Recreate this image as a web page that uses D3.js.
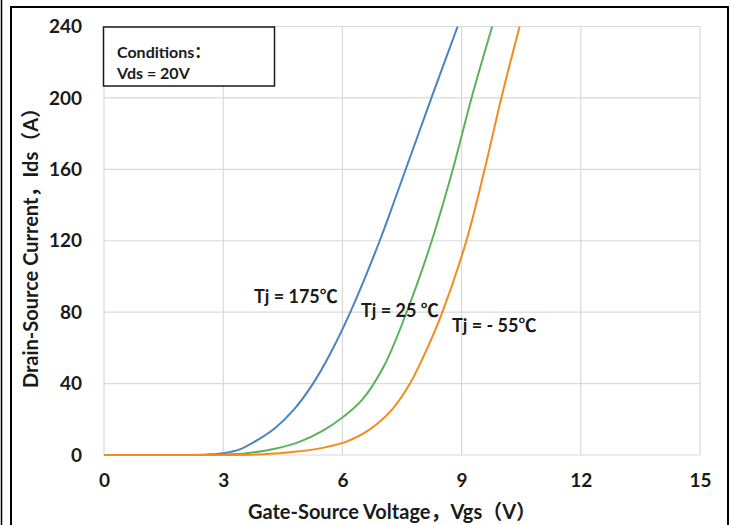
<!DOCTYPE html>
<html>
<head>
<meta charset="utf-8">
<script src="https://cdn.jsdelivr.net/npm/d3@7/dist/d3.min.js"></script>
<style>
  html, body { margin: 0; padding: 0; background: #fff; }
  svg { display: block; }
  text { font-family: Lato, "Noto Sans CJK SC", sans-serif; font-weight: bold; fill: #1a1a1a; }
</style>
</head>
<body>
<svg id="chart" width="732" height="525"></svg>
<script>
// Transfer characteristics: drain current vs gate-source voltage at three junction temperatures
const xTicks = [0, 3, 6, 9, 12, 15];
const yTicks = [0, 40, 80, 120, 160, 200, 240];

const seriesNames = ["Tj = 175℃", "Tj = 25 ℃", "Tj = - 55℃"];
const seriesColors = ["#4a84c0", "#5ab35c", "#f58a1f"];

// [Vgs (V), Ids (A)]
const tj175 = [[0,0],[2,0],[2.6,0.3],[3,1],[3.4,3],[3.87,8.5],[4.3,15],[4.8,26],[5.26,40],[5.7,57],
  [6.2,80],[6.94,120],[7.4,148],[8.24,200],[8.9,240]];
const tj25 = [[0,0],[2,0],[3,0.2],[3.6,1],[4.3,3.5],[4.93,7.5],[5.5,13.5],[6,21],[6.5,31],[7.05,50],
  [7.6,79],[8.25,120],[8.78,160],[9.25,200],[9.77,240]];
const tjMinus55 = [[0,0],[3,0],[4,0.4],[4.8,1.8],[5.5,4],[6.1,7.5],[6.7,14.5],[7.27,26],[7.7,40],[8.1,58],
  [8.5,79],[9.12,120],[9.58,160],[10.0,200],[10.46,240]];
const seriesData = [tj175, tj25, tjMinus55];

const svg = d3.select("#chart");

// outer frame
svg.append("line").attr("x1", 1.5).attr("x2", 1.5).attr("y1", 0).attr("y2", 525)
  .attr("stroke", "#000").attr("stroke-width", 1.5);
svg.append("rect").attr("x", 11).attr("y", 7).attr("width", 717).attr("height", 530)
  .attr("fill", "none").attr("stroke", "#000").attr("stroke-width", 2);

const x = d3.scaleLinear().domain([0, 15]).range([104, 700]);
const y = d3.scaleLinear().domain([0, 240]).range([455, 26.5]);

// gridlines
const grid = svg.append("g").attr("stroke", "#d9d9d9").attr("stroke-width", 1.2);
grid.selectAll("line.v").data(xTicks).join("line").attr("class", "v")
  .attr("x1", d => x(d)).attr("x2", d => x(d)).attr("y1", y(0)).attr("y2", y(240));
grid.selectAll("line.h").data(yTicks).join("line").attr("class", "h")
  .attr("x1", x(0)).attr("x2", x(15)).attr("y1", d => y(d)).attr("y2", d => y(d));

// axes (tick labels only, no lines)
const gx = svg.append("g").attr("transform", "translate(0,473)")
  .call(d3.axisBottom(x).tickValues(xTicks).tickSize(0).tickPadding(0));
const gy = svg.append("g").attr("transform", "translate(82,0)")
  .call(d3.axisLeft(y).tickValues(yTicks).tickSize(0).tickPadding(0));
[gx, gy].forEach(g => {
  g.select(".domain").remove();
  g.attr("font-family", null).attr("font-size", null);
  g.selectAll("text").attr("font-size", 19).attr("fill", "#1a1a1a");
});
gx.selectAll("text").attr("dy", "0.71em");

// curves
const line = d3.line().x(d => x(d[0])).y(d => y(d[1])).curve(d3.curveCatmullRom.alpha(0.5));
svg.append("g").selectAll("path").data(seriesData).join("path")
  .attr("d", line).attr("fill", "none")
  .attr("stroke", (d, i) => seriesColors[i]).attr("stroke-width", 2);

// series labels
const labelPos = [[254, 303], [361, 317], [452, 332]];
svg.append("g").selectAll("text").data(seriesNames).join("text")
  .attr("x", (d, i) => labelPos[i][0]).attr("y", (d, i) => labelPos[i][1])
  .attr("font-size", 18).text(d => d);

// conditions box
svg.append("rect").attr("x", 103.5).attr("y", 27).attr("width", 171).attr("height", 59)
  .attr("fill", "#fff").attr("stroke", "#1a1a1a").attr("stroke-width", 1.5);
svg.append("text").attr("x", 117).attr("y", 58).attr("font-size", 16).text("Conditions：");
svg.append("text").attr("x", 117).attr("y", 79).attr("font-size", 16).text("Vds = 20V");

// axis titles
svg.append("text").attr("x", 392).attr("y", 519).attr("text-anchor", "middle")
  .attr("font-size", 20).text("Gate-Source Voltage，Vgs（V）");
svg.append("text").attr("transform", "translate(38,243) rotate(-90)").attr("text-anchor", "middle")
  .attr("font-size", 20).text("Drain-Source Current，Ids（A）");
</script>
</body>
</html>
